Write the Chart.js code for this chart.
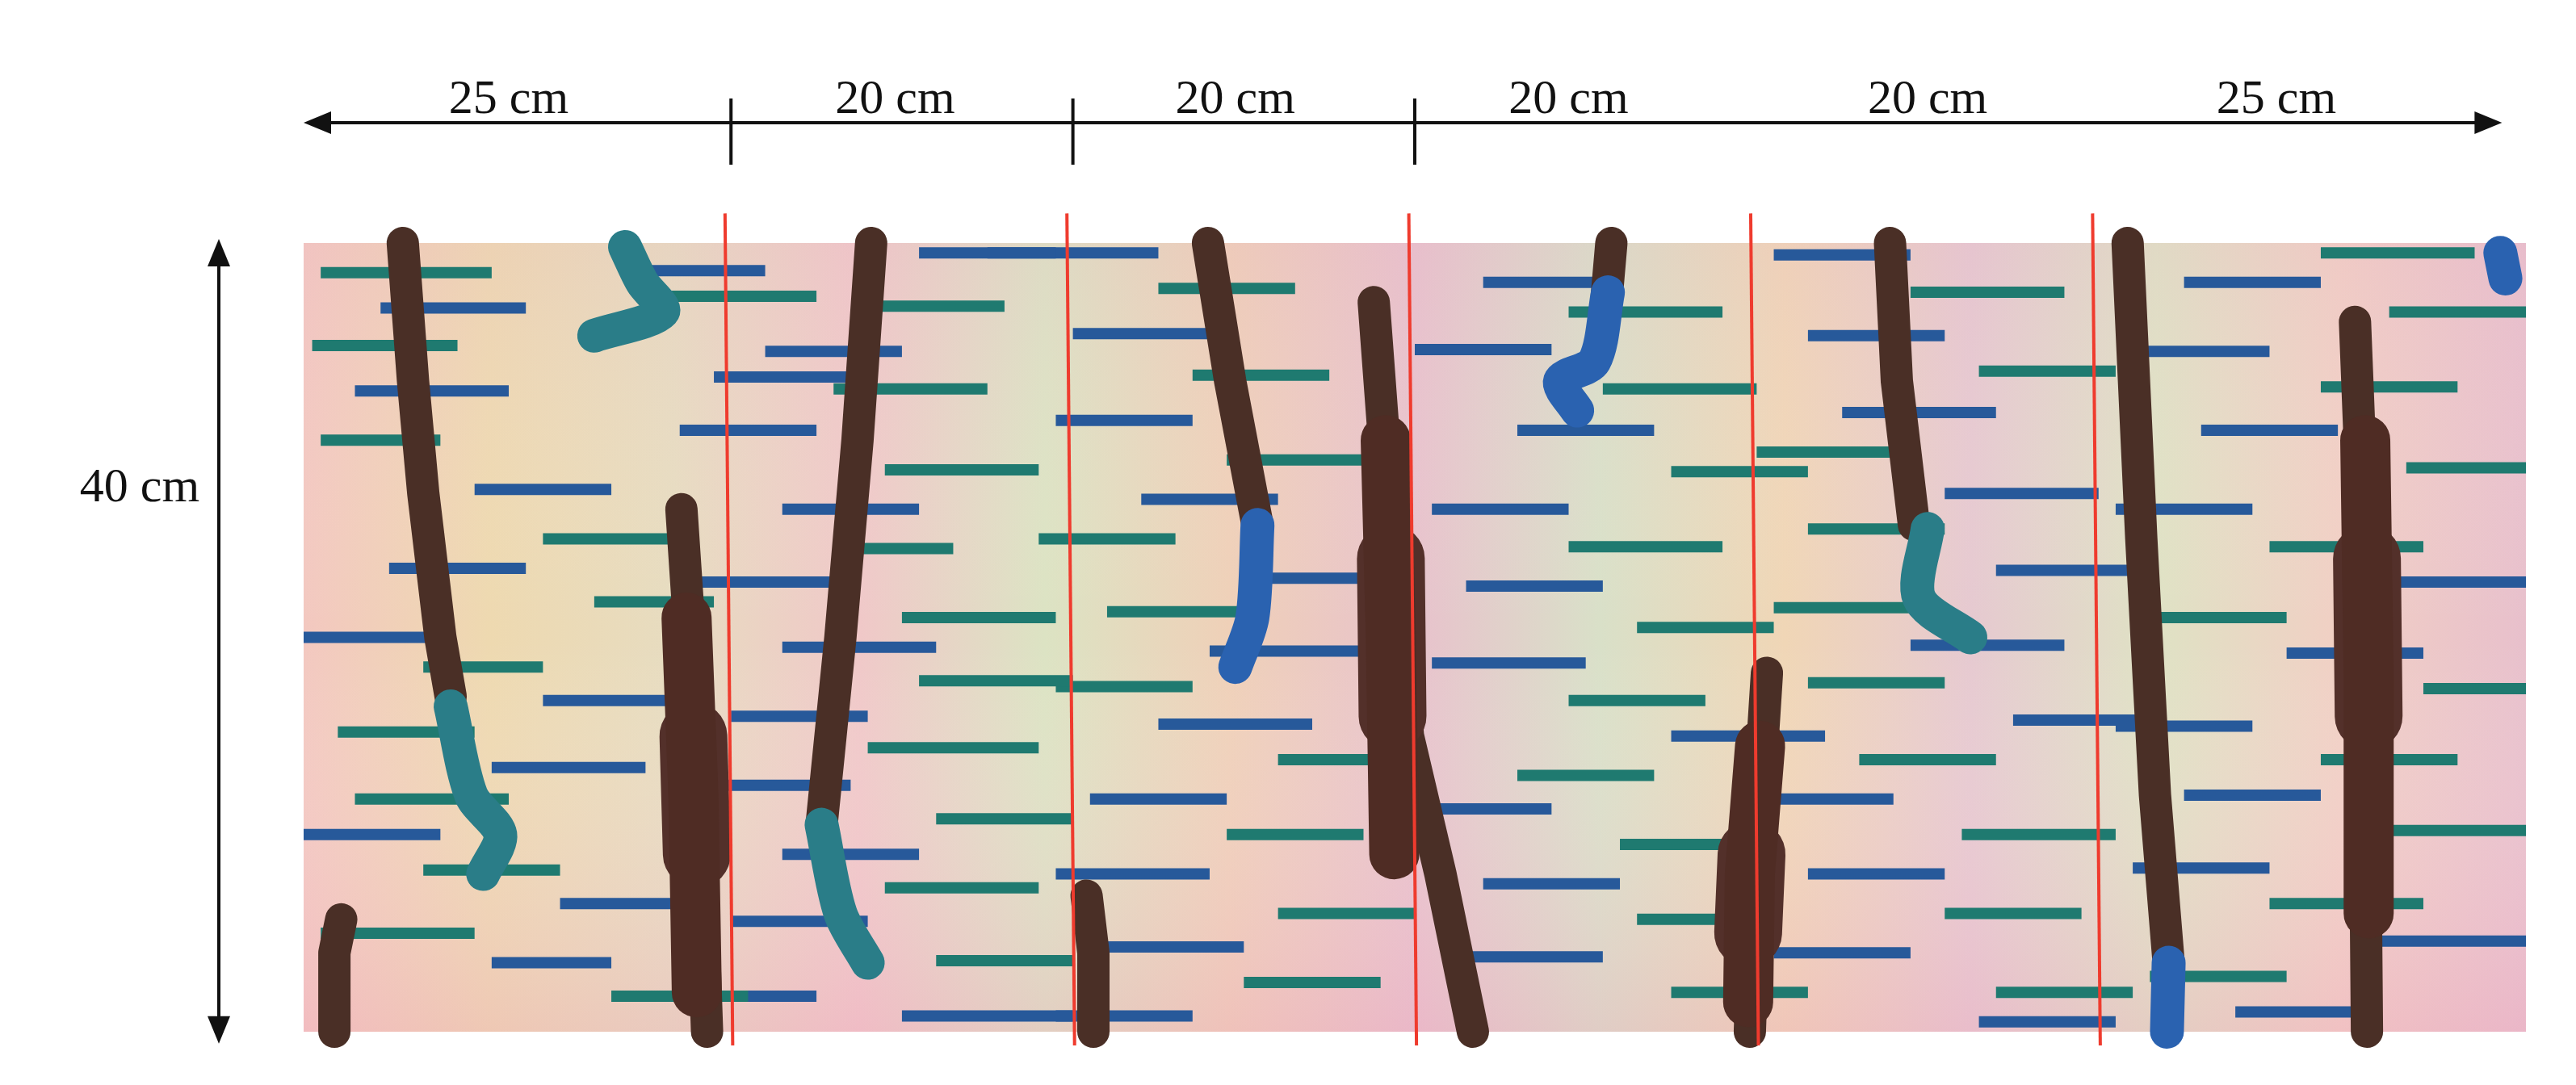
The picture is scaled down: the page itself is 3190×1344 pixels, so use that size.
<!DOCTYPE html>
<html><head><meta charset="utf-8">
<script src="https://cdn.jsdelivr.net/npm/chart.js@4"></script>
<style>
html,body{margin:0;padding:0;background:#fff;}
#wrap{position:relative;width:3190px;height:1344px;}
.lbl{position:absolute;font-family:"Liberation Serif","DejaVu Serif",serif;font-size:60px;color:#111;white-space:nowrap;transform:translate(-50%,-50%);}
</style></head>
<body>
<div id="wrap"><canvas id="c" width="3190" height="1344"></canvas></div>
<script>
// segment widths along the top (cm)
const segments = [25, 20, 20, 20, 20, 25];
const heightCm = 40;
const cutLines = [25, 45, 65, 85, 105];

// short horizontal marks: [xStart, xEnd, y]  (cm)
const dashesTeal = [
  [1,11,38.5],[0.5,9,34.8],[1,8,30],[14,22,25],[17,24,21.8],[7,14,18.5],[2,10,15.2],[3,12,11.8],[7,15,8.2],[1,10,5],[18,26,1.8],[21,30,37.3],
  [33,41,36.8],[31,40,32.6],[34,43,28.5],[31,38,24.5],[35,44,21],[36,45,17.8],[33,43,14.4],[37,45,10.8],[34,43,7.3],[37,45,3.6],
  [50,58,37.7],[52,60,33.3],[54,63,29],[43,51,25],[47,56,21.3],[44,52,17.5],[57,65,13.8],[54,62,10],[57,65,6],[55,63,2.5],
  [74,83,36.5],[76,85,32.6],[80,88,28.4],[74,83,24.6],[78,86,20.5],[74,82,16.8],[71,79,13],[77,85,9.5],[78,86,5.7],[80,88,2],
  [94,103,37.5],[98,106,33.5],[85,93,29.4],[88,96,25.5],[86,94,21.5],[88,96,17.7],[91,99,13.8],[97,106,10],[96,104,6],[99,107,2],
  [118,127,39.5],[122,130,36.5],[118,126,32.7],[123,130,28.6],[115,124,24.6],[108,116,21],[124,130,17.4],[118,126,13.8],[122,130,10.2],[115,124,6.5],[108,116,2.8]
];
const dashesBlue = [
  [4.5,13,36.7],[3,12,32.5],[10,18,27.5],[5,13,23.5],[0,8,20],[14,22,16.8],[11,20,13.4],[0,8,10],[15,24,6.5],[11,18,3.5],[20,27,38.6],[24,32,33.2],
  [36,44,39.5],[27,35,34.5],[22,30,30.5],[28,36,26.5],[23,31,22.8],[28,37,19.5],[25,33,16],[24,32,12.5],[28,36,9],[25,33,5.6],[21,30,1.8],[35,45,0.8],
  [40,50,39.5],[45,53,35.4],[44,52,31],[49,57,27],[55,63,23],[53,62,19.3],[50,59,15.6],[46,54,11.8],[44,53,8],[47,55,4.3],[44,52,0.8],
  [69,77,38],[65,73,34.6],[71,79,30.5],[66,74,26.5],[68,76,22.6],[66,75,18.7],[80,89,15],[65,73,11.3],[69,77,7.5],[67,76,3.8],
  [86,94,39.4],[88,96,35.3],[90,99,31.4],[96,105,27.3],[99,107,23.4],[94,103,19.6],[100,108,15.8],[85,93,11.8],[88,96,8],[86,94,4],[98,106,0.5],
  [110,118,38],[107,115,34.5],[111,119,30.5],[106,114,26.5],[122,130,22.8],[116,124,19.2],[106,114,15.5],[110,118,12],[107,115,8.3],[121,130,4.6],[113,121,1]
];

// dark stems: polylines of [x, y] (cm)
const stems = [
  [[5.8,40],[6.4,33],[7,27.3],[8,20],[8.6,17]],
  [[33.2,40],[32.4,30],[31.4,20],[30.3,10.5]],
  [[52.9,40],[54.2,33],[55.8,25.7]],
  [[76.5,40],[76.2,37]],
  [[92.8,40],[93.2,33],[94.2,25.7]],
  [[106.7,40],[107.5,25],[108.3,12],[109.1,3.5]],
  [[23.6,0],[23.2,10],[22.6,20],[22.1,26.5]],
  [[62.6,37],[63.2,30],[64.6,15],[66.5,8],[68.4,0]],
  [[85.6,18.2],[85,10],[84.6,0]],
  [[120,36],[120.5,25],[120.6,10],[120.7,0]],
  [[1.8,0],[1.8,4],[2.2,5.7]],
  [[46.2,0],[46.2,4],[45.8,6.9]]
];
// medium and wide parts of the spindles
const bulgesMid = [
  [[23,2],[22.8,12],[22.4,21]],
  [[63.8,9],[63.6,20],[63.3,30]],
  [[84.5,1.5],[84.6,8],[85.2,14.5]],
  [[120.8,6],[120.8,18],[120.6,30]]
];
const bulgesWide = [
  [[23,9],[22.8,15]],
  [[63.7,16],[63.6,24]],
  [[84.5,5],[84.7,9]],
  [[120.8,16],[120.7,24]]
];
// blue / teal ends
const blobsTeal = [
  [[8.6,16.5],[9.8,12],[11.5,10],[10.5,8]],
  [[30.3,10.5],[31.4,6],[33,3.5]],
  [[95,25.5],[94.5,22],[97.5,20]],
  [[18.8,39.8],[19.8,38],[21,36.5],[17,35.3]]
];
const blobsBlue = [
  [[55.8,25.7],[55.5,21],[54.5,18.5]],
  [[76.3,37.5],[75.5,34],[73.5,33],[74.5,31.5]],
  [[109.1,3.5],[109,0]],
  [[128.5,39.5],[128.8,38.2]]
];

const toPts = arr => arr.map(p => ({x: p[0], y: p[1]}));
const datasets = [];
function add(points, color, width, order, cap, extra) {
  datasets.push(Object.assign({
    type: "line", data: toPts(points), borderColor: color, backgroundColor: color,
    borderWidth: width, pointRadius: 0, fill: false, tension: 0,
    borderCapStyle: cap, borderJoinStyle: "round", order: order, clip: false
  }, extra || {}));
}
dashesTeal.forEach(d => add([[d[0], d[2]], [d[1], d[2]]], "#1f7a70", 14, 5, "butt"));
dashesBlue.forEach(d => add([[d[0], d[2]], [d[1], d[2]]], "#27599a", 14, 5, "butt"));
stems.forEach(s => add(s, "#4a2f26", 40, 4, "round"));
bulgesMid.forEach(s => add(s, "#4f2c24", 62, 3, "round"));
bulgesWide.forEach(s => add(s, "#53302a", 84, 3, "round"));
blobsTeal.forEach(s => add(s, "#2a7d88", 42, 2, "round", {tension: 0.3}));
blobsBlue.forEach(s => add(s, "#2a62b0", 42, 2, "round", {tension: 0.3}));
cutLines.forEach(x => add([[x - 0.35, 41.5], [x + 0.1, -0.7]], "#ef3b2e", 4, 1, "butt"));

const decor = {
  id: "decor",
  beforeDatasetsDraw(chart) {
    const {ctx, chartArea: a} = chart;
    const g = ctx.createLinearGradient(a.left, 0, a.right, 0);
    ["#f3c8c0", "#eed9b0", "#e7dcc0", "#f0c8c8", "#dce3c3", "#efd0b8", "#e8c2cc",
     "#d9e0c8", "#f0d6b6", "#e6c9d0", "#dfe2c4", "#f1cfc4", "#e8c0cc"].forEach((c, i, arr) =>
      g.addColorStop(i / (arr.length - 1), c));
    ctx.save();
    ctx.fillStyle = g;
    ctx.fillRect(a.left, a.top, a.width, a.height);
    const v = ctx.createLinearGradient(0, a.top, 0, a.bottom);
    v.addColorStop(0, "rgba(230,170,200,0.15)");
    v.addColorStop(0.5, "rgba(255,255,255,0)");
    v.addColorStop(1, "rgba(240,160,190,0.3)");
    ctx.fillStyle = v;
    ctx.fillRect(a.left, a.top, a.width, a.height);
    ctx.restore();
  },
  afterDraw(chart) {
    const {ctx, scales: {x, y}} = chart;
    ctx.save();
    ctx.strokeStyle = "#111"; ctx.fillStyle = "#111"; ctx.lineWidth = 4;
    const ty = y.getPixelForValue(46.1);
    const x0 = x.getPixelForValue(0), x1 = x.getPixelForValue(128.6);
    ctx.beginPath(); ctx.moveTo(x0 + 20, ty); ctx.lineTo(x1 - 20, ty); ctx.stroke();
    const head = (px, py, dx, dy) => {
      ctx.beginPath(); ctx.moveTo(px, py);
      ctx.lineTo(px - dx * 34 - dy * 14, py - dy * 34 - dx * 14);
      ctx.lineTo(px - dx * 34 + dy * 14, py - dy * 34 + dx * 14);
      ctx.closePath(); ctx.fill();
    };
    head(x0, ty, -1, 0); head(x1, ty, 1, 0);
    [25, 45, 65].forEach(v => {
      const px = x.getPixelForValue(v);
      ctx.beginPath(); ctx.moveTo(px, ty - 30); ctx.lineTo(px, ty + 52); ctx.stroke();
    });
    const lx = 271, ly0 = y.getPixelForValue(40.2), ly1 = y.getPixelForValue(-0.6);
    ctx.beginPath(); ctx.moveTo(lx, ly0 + 20); ctx.lineTo(lx, ly1 - 20); ctx.stroke();
    head(lx, ly0, 0, -1); head(lx, ly1, 0, 1);
    ctx.restore();
  }
};

const chart = new Chart(document.getElementById("c"), {
  type: "scatter",
  data: {datasets},
  options: {
    responsive: false, animation: false, events: [],
    layout: {padding: {left: 376, right: 62, top: 301, bottom: 66}},
    plugins: {legend: {display: false}, tooltip: {enabled: false}},
    scales: {
      x: {type: "linear", min: 0, max: 130, display: false},
      y: {type: "linear", min: 0, max: heightCm, display: false}
    }
  },
  plugins: [decor]
});

// labels
const wrap = document.getElementById("wrap");
function label(text, px, py) {
  const d = document.createElement("div");
  d.className = "lbl"; d.textContent = text;
  d.style.left = px + "px"; d.style.top = py + "px";
  wrap.appendChild(d);
}
const labelY = chart.scales.y.getPixelForValue(47.4);
const centers = [12, 34.6, 54.5, 74, 95, 115.4];
segments.forEach((s, i) => {
  label(s + " cm", chart.scales.x.getPixelForValue(centers[i]), labelY);
});
label(heightCm + " cm", 173, chart.scales.y.getPixelForValue(27.7));
</script>
</body></html>
